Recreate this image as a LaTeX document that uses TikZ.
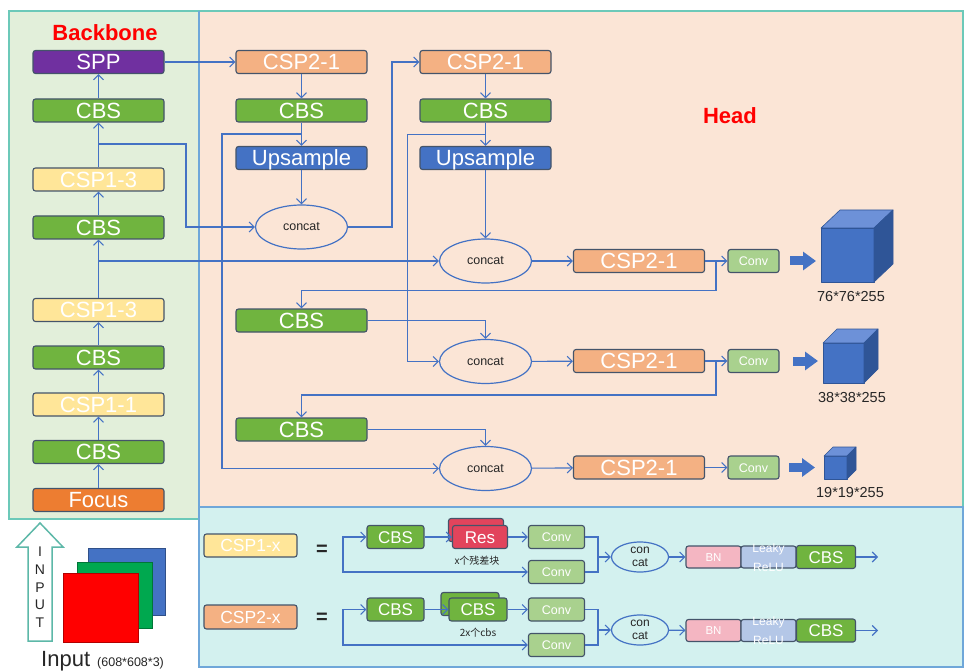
\documentclass[tikz,border=0pt]{standalone}
\usepackage{fontspec}
\setmainfont{Liberation Sans}
\newfontfamily\cjk{Noto Sans CJK SC}
\usetikzlibrary{arrows.meta,shapes.geometric}
\definecolor{bbfill}{HTML}{E2EFDA}
\definecolor{hdfill}{HTML}{FBE5D6}
\definecolor{btfill}{HTML}{D3F1EF}
\definecolor{pnl}{HTML}{6CC9B9}
\definecolor{pnlb}{HTML}{6FA7D9}
\definecolor{bord}{HTML}{44546A}
\definecolor{lnc}{HTML}{4472C4}
\definecolor{cbsc}{HTML}{70B43F}
\definecolor{sppc}{HTML}{7030A0}
\definecolor{csp1c}{HTML}{FFE699}
\definecolor{focc}{HTML}{ED7D31}
\definecolor{csp2c}{HTML}{F4B183}
\definecolor{upc}{HTML}{4472C4}
\definecolor{convc}{HTML}{A9D18E}
\definecolor{resc}{HTML}{E2445C}
\definecolor{bnc}{HTML}{F4B6C2}
\definecolor{lrc}{HTML}{B4C7E7}
\definecolor{cubef}{HTML}{4472C4}
\definecolor{cubet}{HTML}{6D91D8}
\definecolor{cubes}{HTML}{2F5597}
\definecolor{inarr}{HTML}{5DB8A8}
\definecolor{sqb}{HTML}{4472C4}
\definecolor{sqg}{HTML}{00A84F}
\definecolor{sqr}{HTML}{FF0000}
\definecolor{redt}{HTML}{FF0000}
\definecolor{txt}{HTML}{262626}
\begin{document}
\begin{tikzpicture}[x=1pt,y=-1pt,
  every node/.style={inner sep=0pt},
  bx/.style={draw=bord, line width=1.1pt, rounded corners=2.5pt, text=white, minimum height=23pt},
  big/.style={bx, minimum width=131pt, font=\fontsize{22}{22}\selectfont, text height=15.5pt, text depth=0pt},
  sm/.style={bx, minimum width=57pt, font=\fontsize{17}{17}\selectfont, text height=12pt, text depth=0pt},
  cvh/.style={bx, fill=convc, minimum width=51pt, font=\fontsize{12.5}{12.5}\selectfont, text height=9pt, text depth=0pt},
  cv/.style={bx, fill=convc, minimum width=56pt, font=\fontsize{12.5}{12.5}\selectfont, text height=9pt, text depth=0pt},
  tri/.style={bx, minimum width=55pt, minimum height=22pt, font=\fontsize{11.5}{11.5}\selectfont, text height=8.3pt, text depth=0pt},
  cat/.style={ellipse, draw=lnc, line width=1.2pt, minimum width=92pt, minimum height=44pt, font=\fontsize{12.5}{12.5}\selectfont, text=txt},
  scat/.style={ellipse, draw=lnc, line width=1.2pt, minimum width=57pt, minimum height=30pt, inner ysep=-3pt, align=center, font=\fontsize{12}{13.5}\selectfont, text=txt},
  ln/.style={draw=lnc, line width=1.1pt, -{Straight Barb[length=5pt,width=10pt]}},
  lnp/.style={draw=lnc, line width=1.1pt},
  barr/.style={draw=lnc, line width=9pt, -{Triangle[length=13pt,width=18pt]}},
  cube/.style={draw=cubes, line width=0.6pt, line join=round},
  lbl/.style={text=txt, font=\fontsize{14.5}{14.5}\selectfont},
  ttl/.style={text=redt, font=\bfseries\fontsize{22}{22}\selectfont},
  cjklbl/.style={text=txt, font=\cjk\fontsize{10}{10}\selectfont}
]
\useasboundingbox (0,0) rectangle (964,671);
% panels
\fill[white] (0,0) rectangle (964,671);
\fill[bbfill] (9,11) rectangle (199,519);
\fill[hdfill] (199,11) rectangle (963,507);
\fill[btfill] (199,507) rectangle (963,667);
\draw[pnl, line width=1.2pt] (9,11) rectangle (199,519);
\draw[pnl, line width=1.2pt] (199,11) -- (963,11) -- (963,507);
\draw[pnlb, line width=1.2pt] (199,11) -- (199,507);
\draw[pnlb, line width=1.5pt] (199,507) rectangle (963,667);

% titles
\node[ttl] (tBB) at (105,33) {Backbone};
\node[ttl] (tHead) at (730,116) {Head};

% backbone
\node[big, fill=sppc] (bSPP) at (98.5,62) {SPP};
\node[big, fill=cbsc] (bCBS1) at (98.5,110.5) {CBS};
\node[big, fill=csp1c] (bCSP13a) at (98.5,179.5) {CSP1-3};
\node[big, fill=cbsc] (bCBS2) at (98.5,227.5) {CBS};
\node[big, fill=csp1c] (bCSP13b) at (98.5,310) {CSP1-3};
\node[big, fill=cbsc] (bCBS3) at (98.5,357.5) {CBS};
\node[big, fill=csp1c] (bCSP11) at (98.5,404.5) {CSP1-1};
\node[big, fill=cbsc] (bCBS4) at (98.5,452) {CBS};
\node[big, fill=focc] (bFocus) at (98.5,500) {Focus};
\draw[ln] (bFocus) -- (bCBS4);
\draw[ln] (bCBS4) -- (bCSP11);
\draw[ln] (bCSP11) -- (bCBS3);
\draw[ln] (bCBS3) -- (bCSP13b);
\draw[ln] (bCSP13b) -- (bCBS2);
\draw[ln] (bCBS2) -- (bCSP13a);
\draw[ln] (bCSP13a) -- (bCBS1);
\draw[ln] (bCBS1) -- (bSPP);

% head column 1
\node[big, fill=csp2c] (hCSPa) at (301.5,62) {CSP2-1};
\node[big, fill=cbsc] (hCBSa) at (301.5,110.5) {CBS};
\node[big, fill=upc] (hUPa) at (301.5,158) {Upsample};
\node[cat] (c1) at (301.5,227) {concat};
% head column 2
\node[big, fill=csp2c] (hCSPb) at (485.5,62) {CSP2-1};
\node[big, fill=cbsc] (hCBSb) at (485.5,110.5) {CBS};
\node[big, fill=upc] (hUPb) at (485.5,158) {Upsample};
\node[cat] (c2) at (485.5,261) {concat};
% rows
\node[big, fill=csp2c] (hCSPc) at (639,261) {CSP2-1};
\node[cvh] (cv1) at (753.5,261) {Conv};
\node[big, fill=cbsc] (hCBSc) at (301.5,320.5) {CBS};
\node[cat] (c3) at (485.5,361.5) {concat};
\node[big, fill=csp2c] (hCSPd) at (639,361) {CSP2-1};
\node[cvh] (cv2) at (753.5,361) {Conv};
\node[big, fill=cbsc] (hCBSd) at (301.5,429.5) {CBS};
\node[cat] (c5) at (485.5,468.5) {concat};
\node[big, fill=csp2c] (hCSPe) at (639,467.5) {CSP2-1};
\node[cvh] (cv3) at (753.5,467.5) {Conv};

% backbone branches
\coordinate (j1) at (98.5,144);
\draw[ln] (j1) -- (186,144) |- (c1.west);
\coordinate (j2) at (98.5,261);
\draw[ln] (j2) -- (c2.west);
\draw[ln] (bSPP) -- (hCSPa);
% column 1 flow
\draw[ln] (hCSPa) -- (hCBSa);
\draw[ln] (hCBSa) -- (hUPa);
\draw[ln] (hUPa) -- (c1);
\draw[ln] (c1.east) -- (392,227) |- (hCSPb.west);
% column 2 flow
\draw[ln] (hCSPb) -- (hCBSb);
\draw[ln] (hCBSb) -- (hUPb);
\draw[ln] (hUPb) -- (c2);
% long branches
\coordinate (j3) at (301.5,134);
\draw[ln] (j3) -- (222,134) |- (c5.west);
\coordinate (j4) at (485.5,134.5);
\draw[ln] (j4) -- (407.5,134.5) |- (c3.west);
% row 1
\draw[ln] (c2) -- (hCSPc);
\draw[ln] (hCSPc) -- (cv1);
\coordinate (j5) at (716,261);
\draw[ln] (j5) -- (716,290.5) -| (hCBSc.north);
\draw[ln] (hCBSc.east) -| (c3.north);
% row 2
\draw[ln] (c3) -- (hCSPd);
\draw[ln] (hCSPd) -- (cv2);
\coordinate (j6) at (716,361);
\draw[ln] (j6) -- (716,395) -| (hCBSd.north);
\draw[ln] (hCBSd.east) -| (c5.north);
% row 3
\draw[ln] (c5) -- (hCSPe);
\draw[ln] (hCSPe) -- (cv3);

% block arrows
\coordinate (ba1s) at (790,261); \coordinate (ba1e) at (816,261);
\coordinate (ba2s) at (793,361); \coordinate (ba2e) at (818,361);
\coordinate (ba3s) at (789,467.5); \coordinate (ba3e) at (815,467.5);
\draw[barr] (ba1s) -- (ba1e);
\draw[barr] (ba2s) -- (ba2e);
\draw[barr] (ba3s) -- (ba3e);

% cubes
\filldraw[cube, fill=cubef] (821,228) rectangle (874,282);
\filldraw[cube, fill=cubet] (821,228) -- (840,210) -- (893,210) -- (874,228) -- cycle;
\filldraw[cube, fill=cubes] (874,228) -- (893,210) -- (893,264) -- (874,282) -- cycle;
\node[lbl] (l1) at (851,297) {76*76*255};
\filldraw[cube, fill=cubef] (823,343) rectangle (864,383);
\filldraw[cube, fill=cubet] (823,343) -- (837,329) -- (878,329) -- (864,343) -- cycle;
\filldraw[cube, fill=cubes] (864,343) -- (878,329) -- (878,369) -- (864,383) -- cycle;
\node[lbl] (l2) at (852,397.5) {38*38*255};
\filldraw[cube, fill=cubef] (824,456) rectangle (847,479);
\filldraw[cube, fill=cubet] (824,456) -- (833,447) -- (856,447) -- (847,456) -- cycle;
\filldraw[cube, fill=cubes] (847,456) -- (856,447) -- (856,470) -- (847,479) -- cycle;
\node[lbl] (l3) at (850,493) {19*19*255};

% input
\draw[inarr, line width=1.5pt, fill=white] (40,523) -- (63,547) -- (52,547) -- (52,641) -- (28,641) -- (28,547) -- (17,547) -- cycle;
\foreach \ch/\yy/\nm in {I/552/iI, N/570/iN, P/587.5/iP, U/605/iU, T/623/iT}
  \node[text=txt, font=\fontsize{14}{14}\selectfont] (\nm) at (40,\yy) {\ch};
\filldraw[fill=sqb, draw=sqb!70!black, line width=0.5pt] (88,548) rectangle (165,615);
\filldraw[fill=sqg, draw=sqg!70!black, line width=0.5pt] (77,562) rectangle (152,628);
\filldraw[fill=sqr, draw=sqr!70!black, line width=0.5pt] (63,573) rectangle (138,642);
\node[anchor=base west, text=txt, font=\fontsize{22}{22}\selectfont] (tin) at (41,666) {Input};
\node[anchor=base west, text=txt, font=\fontsize{12.5}{12.5}\selectfont] (tsz) at (97,666) {(608*608*3)};

% bottom legend, row 1
\node[bx, fill=csp1c, minimum width=93pt, font=\fontsize{17.5}{17.5}\selectfont, text height=12.5pt, text depth=0pt] (sCSP1) at (250.5,545.5) {CSP1-x};
\node[text=txt, font=\bfseries\fontsize{20}{20}\selectfont] (eq1) at (322,550) {=};
\coordinate (s1) at (343,555);
\node[sm, fill=cbsc] (r1cbs) at (395.5,537) {CBS};
\node[sm, fill=resc, minimum width=55pt] (r1resb) at (476,530) {};
\node[sm, fill=resc, minimum width=55pt] (r1res) at (480,537) {Res};
\node[cjklbl] (r1lab) at (477,561) {x个残差块};
\node[cv] (r1cv1) at (556.5,537) {Conv};
\node[cv] (r1cv2) at (556.5,572) {Conv};
\coordinate (m1) at (598,557);
\node[scat] (r1cat) at (640,557) {con\\cat};
\node[tri, fill=bnc] (r1bn) at (713.5,557) {BN};
\node[tri, fill=lrc] (r1lr) at (768.5,557) {};
\node[text=white, align=center, font=\fontsize{12}{19}\selectfont] (r1lrt) at (768.5,557.5) {Leaky\\ReLU};
\node[sm, fill=cbsc, minimum width=59pt] (r1cbs2) at (826,557) {CBS};
\coordinate (o1) at (878,557);
\draw[ln] (s1) |- (r1cbs.west);
\draw[ln] (s1) |- (r1cv2.west);
\draw[ln] (r1cbs) -- (r1res);
\draw[ln] (r1res) -- (r1cv1);
\draw[lnp] (r1cv1.east) -| (m1);
\draw[lnp] (r1cv2.east) -| (m1);
\draw[ln] (m1) -- (r1cat.west);
\draw[ln] (r1cat) -- (r1bn);
\draw[ln] (r1cbs2) -- (o1);

% bottom legend, row 2
\node[bx, fill=csp2c, minimum width=93pt, minimum height=24pt, font=\fontsize{17.5}{17.5}\selectfont, text height=12.5pt, text depth=0pt] (sCSP2) at (250.5,617) {CSP2-x};
\node[text=txt, font=\bfseries\fontsize{20}{20}\selectfont] (eq2) at (322,618) {=};
\coordinate (s2) at (343,627);
\node[sm, fill=cbsc] (r2cbs) at (395.5,609.5) {CBS};
\node[sm, fill=cbsc, minimum width=58pt] (r2cbsb) at (470,604) {};
\node[sm, fill=cbsc, minimum width=58pt] (r2cbsf) at (478,609.5) {CBS};
\node[cjklbl] (r2lab) at (478,633) {2x个cbs};
\node[cv] (r2cv1) at (556.5,609.5) {Conv};
\node[cv] (r2cv2) at (556.5,645) {Conv};
\coordinate (m2) at (598,630);
\node[scat] (r2cat) at (640,630) {con\\cat};
\node[tri, fill=bnc] (r2bn) at (713.5,630.5) {BN};
\node[tri, fill=lrc] (r2lr) at (768.5,630.5) {};
\node[text=white, align=center, font=\fontsize{12}{19}\selectfont] (r2lrt) at (768.5,631) {Leaky\\ReLU};
\node[sm, fill=cbsc, minimum width=59pt] (r2cbs2) at (826,630.5) {CBS};
\coordinate (o2) at (878,630.5);
\draw[ln] (s2) |- (r2cbs.west);
\draw[ln] (s2) |- (r2cv2.west);
\draw[ln] (r2cbs) -- (r2cbsf);
\draw[ln] (r2cbsf) -- (r2cv1);
\draw[lnp] (r2cv1.east) -| (m2);
\draw[lnp] (r2cv2.east) -| (m2);
\draw[ln] (m2) -- (r2cat.west);
\draw[ln] (r2cat) -- (r2bn);
\draw[ln] (r2cbs2) -- (o2);
\end{tikzpicture}
\end{document}
